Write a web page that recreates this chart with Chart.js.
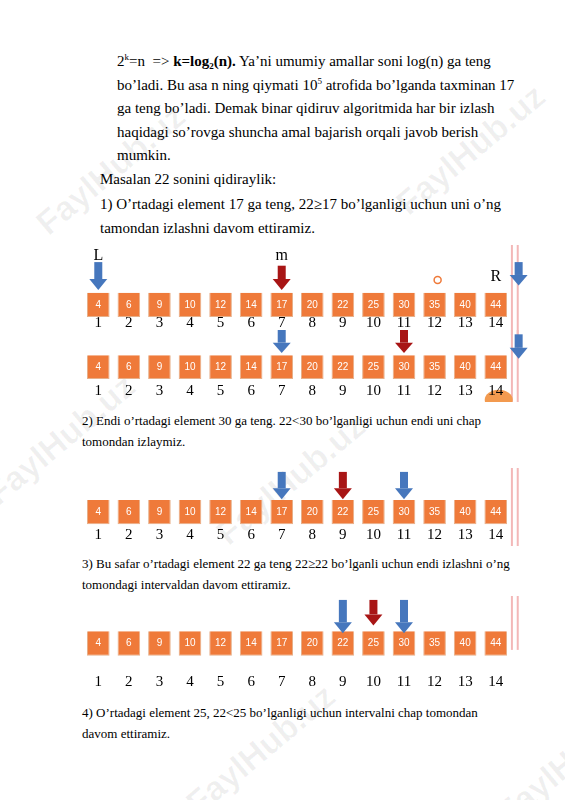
<!DOCTYPE html>
<html><head><meta charset="utf-8">
<script src="https://cdn.jsdelivr.net/npm/chart.js@4/dist/chart.umd.min.js"></script>
<style>
body{margin:0;background:#fff;width:565px;height:800px;position:relative;overflow:hidden;font-family:"Liberation Serif",serif;color:#000}
.t{position:absolute;white-space:nowrap}
.b{font-size:15px;line-height:23.6px}
.s{font-size:13px;line-height:21px}
sup,sub{font-size:9px;line-height:0;position:relative;vertical-align:baseline}
sup{top:-6px} sub{top:3px}
.wm{position:absolute;font-family:"Liberation Sans",sans-serif;font-weight:bold;font-size:34px;color:rgba(0,0,0,0.06);transform:rotate(-40deg);white-space:nowrap}
canvas{position:absolute}
.cw{position:absolute;left:83px;width:452px}
</style></head><body>
<div class="wm" style="left:20px;top:150px">FaylHub.uz</div>
<div class="wm" style="left:380px;top:130px">FaylHub.uz</div>
<div class="wm" style="left:-30px;top:420px">FaylHub.uz</div>
<div class="wm" style="left:200px;top:460px">FaylHub.uz</div>
<div class="wm" style="left:170px;top:730px">FaylHub.uz</div>
<div class="wm" style="left:480px;top:740px">FaylHub.uz</div>
<div class="t b" style="left:117px;top:50px">2<sup>k</sup>=n &nbsp;=&gt; <b>k=log<sub>2</sub>(n).</b> Ya’ni umumiy amallar soni log(n) ga teng<br>bo’ladi. Bu asa n ning qiymati 10<sup>5</sup> atrofida bo’lganda taxminan 17<br>ga teng bo’ladi. Demak binar qidiruv algoritmida har bir izlash<br>haqidagi so’rovga shuncha amal bajarish orqali javob berish<br>mumkin.</div>
<div class="t b" style="left:100px;top:168px">Masalan 22 sonini qidiraylik:</div>
<div class="t b" style="left:100px;top:193px">1) O’rtadagi element 17 ga teng, 22≥17 bo’lganligi uchun uni o’ng<br>tamondan izlashni davom ettiramiz.</div>
<div class="t s" style="left:82px;top:410px">2) Endi o’rtadagi element 30 ga teng. 22&lt;30 bo’lganligi uchun endi uni chap<br>tomondan izlaymiz.</div>
<div class="t s" style="left:82px;top:553px">3) Bu safar o’rtadagi element 22 ga teng 22≥22 bo’lganli uchun endi izlashni o’ng<br>tomondagi intervaldan davom ettiramiz.</div>
<div class="t s" style="left:82px;top:702px">4) O’rtadagi element 25, 22&lt;25 bo’lganligi uchun intervalni chap tomondan<br>davom ettiramiz.</div>

<div class="cw" style="top:245px;height:90px"><canvas id="c1"></canvas></div>
<div class="cw" style="top:330px;height:72px"><canvas id="c2"></canvas></div>
<div class="cw" style="top:468px;height:78px"><canvas id="c3"></canvas></div>
<div class="cw" style="top:596px;height:98px"><canvas id="c4"></canvas></div>
<script>
const values=[4,6,9,10,12,14,17,20,22,25,30,35,40,44];
const indexLabels=['1','2','3','4','5','6','7','8','9','10','11','12','13','14'];
const BLUE='#4677bd', RED='#a81515', ORANGE='#ef7a3a', PINK='#f3b8b8';

function arrow(ctx,x,y0,y1,color){
  ctx.save();ctx.fillStyle=color;
  const head=Math.min(11,(y1-y0)*0.45);
  ctx.fillRect(x-4,y0,8,y1-y0-head);
  ctx.beginPath();ctx.moveTo(x-9,y1-head);ctx.lineTo(x+9,y1-head);ctx.lineTo(x,y1);ctx.closePath();ctx.fill();
  ctx.restore();
}
const deco={id:'deco',
 beforeDatasetsDraw(ch,a,o){
  const ctx=ch.ctx,xs=ch.scales.x,ys=ch.scales.y;
  ctx.save();ctx.strokeStyle=PINK;ctx.lineWidth=2;
  [13.53,13.72].forEach(v=>{const x=xs.getPixelForValue(v);ctx.beginPath();ctx.moveTo(x,ys.getPixelForValue(o.pink[0]));ctx.lineTo(x,ys.getPixelForValue(o.pink[1]));ctx.stroke();});
  if(o.blob!=null){ctx.fillStyle='#f39a4f';ctx.beginPath();ctx.ellipse(xs.getPixelForValue(o.blob)+3,ys.getPixelForValue(0.97),14,10,0,0,Math.PI*2);ctx.fill();}
  ctx.restore();
 },
 afterDatasetsDraw(ch,a,o){
  const ctx=ch.ctx,xs=ch.scales.x,ys=ch.scales.y;
  const meta=ch.getDatasetMeta(0);
  ctx.save();
  ctx.fillStyle='#fff';ctx.font='10px "Liberation Sans",sans-serif';ctx.textAlign='center';ctx.textBaseline='middle';
  meta.data.forEach((b,i)=>ctx.fillText(values[i],b.x,(b.y+b.base)/2));
  ctx.fillStyle='#000';ctx.font='15px "Liberation Serif",serif';
  indexLabels.forEach((l,i)=>ctx.fillText(l,xs.getPixelForValue(i),ys.getPixelForValue(o.labelY)));
  (o.texts||[]).forEach(t=>{ctx.font='16px "Liberation Serif",serif';ctx.fillText(t.s,xs.getPixelForValue(t.i),ys.getPixelForValue(t.y));});
  (o.arrows||[]).forEach(r=>arrow(ctx,xs.getPixelForValue(r.i),ys.getPixelForValue(r.y0),ys.getPixelForValue(r.y1),r.c));
  if(o.circle){ctx.strokeStyle=ORANGE;ctx.lineWidth=1.5;ctx.beginPath();ctx.arc(xs.getPixelForValue(o.circle.i),ys.getPixelForValue(o.circle.y),3.5,0,Math.PI*2);ctx.stroke();}
  ctx.restore();
 }};
function make(id,boxTop,boxBot,opts){
  new Chart(document.getElementById(id),{type:'bar',
   data:{labels:indexLabels,datasets:[{data:values.map(()=>[boxTop,boxBot]),backgroundColor:ORANGE,borderColor:'#e7b08a',borderWidth:1,barPercentage:0.74,categoryPercentage:1}]},
   options:{responsive:true,maintainAspectRatio:false,animation:false,layout:{padding:{left:0,right:24,top:0,bottom:0}},
    scales:{x:{display:false,offset:true},y:{display:false,reverse:true,min:0,max:1}},
    plugins:{legend:{display:false},tooltip:{enabled:false},deco:opts}},
   plugins:[deco]});
}
make('c1',0.53,0.80,{labelY:0.87,pink:[0,1],
 texts:[{s:'L',i:0,y:0.12},{s:'m',i:6,y:0.12},{s:'R',i:13,y:0.35}],
 arrows:[{i:0,y0:0.19,y1:0.5,c:BLUE},{i:6,y0:0.23,y1:0.5,c:RED},{i:13.75,y0:0.19,y1:0.45,c:BLUE}],
 circle:{i:11.1,y:0.39}});
make('c2',0.35,0.68,{labelY:0.85,pink:[0,1],blob:13,
 arrows:[{i:6,y0:0.0,y1:0.32,c:BLUE},{i:10,y0:0.0,y1:0.32,c:RED},{i:13.75,y0:0.06,y1:0.4,c:BLUE}]});
make('c3',0.41,0.72,{labelY:0.86,pink:[0,1],
 arrows:[{i:6,y0:0.05,y1:0.4,c:BLUE},{i:8,y0:0.05,y1:0.4,c:RED},{i:10,y0:0.05,y1:0.4,c:BLUE}]});
make('c4',0.36,0.61,{labelY:0.88,pink:[0,0.55],
 arrows:[{i:8,y0:0.04,y1:0.38,c:BLUE},{i:9,y0:0.04,y1:0.3,c:RED},{i:10,y0:0.04,y1:0.38,c:BLUE}]});
</script>
</body></html>
